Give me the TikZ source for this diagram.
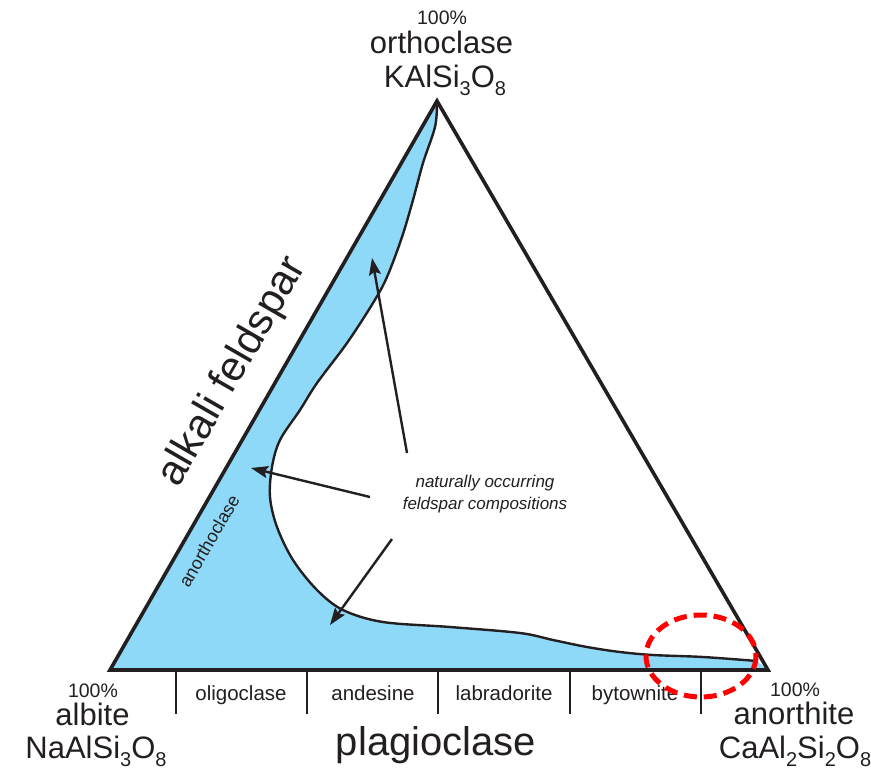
\documentclass[tikz,border=0pt]{standalone}
\usepackage{fontspec}
\setmainfont{Liberation Sans}
\usetikzlibrary{arrows.meta}
\definecolor{feld}{RGB}{142,216,248}
\definecolor{ink}{RGB}{35,31,32}
\definecolor{circ}{RGB}{255,0,0}
\newcommand\fsz[1]{\fontsize{#1}{#1}\selectfont}
\newcommand\subs[1]{\raisebox{-0.27em}{\fontsize{20}{20}\selectfont #1}}
\begin{document}
\begin{tikzpicture}[x=1pt,y=-1pt,
  edge/.style={draw=ink, line width=3.6pt, line join=miter},
  bound/.style={draw=ink, line width=2.4pt},
  tickln/.style={draw=ink, line width=1.6pt},
  arr/.style={draw=ink, line width=2.4pt, -{Stealth[length=17pt,width=12pt,inset=3pt]}},
  lbl/.style={inner sep=0pt, anchor=base, text=ink},
  big/.style={lbl, font=\fsz{31}},
  pct/.style={lbl, font=\fsz{19.5}},
  series/.style={lbl, font=\fsz{20.5}},
  note/.style={lbl, font=\fsz{17}\itshape}
]
\useasboundingbox (0,0) rectangle (871,769);
\coordinate (T) at (437,101);
\coordinate (A) at (110,670);
\coordinate (B) at (768,670);

% feldspar field
\fill[feld] plot[smooth, tension=0.55] coordinates {(437,103) (435,127) (423,163) (413,200) (402,237) (387,277) (373,303) (347,343) (317,383) (300,410) (280,440) (272,467) (270,497) (277,527) (293,560) (317,590) (343,610) (383,622) (450,627) (520,633) (553,640) (587,647) (620,652) (653,655) (703,657) (757,661)} -- (B) -- (A) -- cycle;
\draw[bound] plot[smooth, tension=0.55] coordinates {(437,103) (435,127) (423,163) (413,200) (402,237) (387,277) (373,303) (347,343) (317,383) (300,410) (280,440) (272,467) (270,497) (277,527) (293,560) (317,590) (343,610) (383,622) (450,627) (520,633) (553,640) (587,647) (620,652) (653,655) (703,657) (757,661)};

% triangle
\draw[edge] (T) -- (A) -- (B) -- cycle;

% plagioclase divisions
\foreach \x in {176,307,438,570,701} \draw[tickln] (\x,670) -- (\x,714);

% labels
\node[pct] (tp) at (442,24) {100\%};
\node[big] (tn) at (441.5,53) {orthoclase};
\node[big] (tf) at (445,87) {KAlSi\subs{3}O\subs{8}};

\node[pct] (lp) at (93,697) {100\%};
\node[big] (ln) at (92.5,725) {albite};
\node[big] (lf) at (96,758) {NaAlSi\subs{3}O\subs{8}};

\node[pct] (rp) at (795,696) {100\%};
\node[big] (rn) at (794,724) {anorthite};
\node[big] (rf) at (795,758) {CaAl\subs{2}Si\subs{2}O\subs{8}};

\node[lbl, font=\fsz{40}] (plag) at (436,755) {plagioclase};
\node[series] (s1) at (241,700) {oligoclase};
\node[series] (s2) at (373,700) {andesine};
\node[series] (s3) at (504,700) {labradorite};
\node[series] (s4) at (635,700) {bytownite};

\node[inner sep=0pt, text=ink, font=\fsz{42}, rotate=60] (alk) at (233,372) {alkali feldspar};
\node[inner sep=0pt, text=ink, font=\fsz{18}, rotate=60] (ano) at (209,541) {anorthoclase};

\node[note] (n1) at (485,487) {naturally occurring};
\node[note] (n2) at (485,509) {feldspar compositions};

% arrows
\coordinate (a1s) at (407,453); \coordinate (a1e) at (372,258);
\coordinate (a2s) at (370,497); \coordinate (a2e) at (251,468);
\coordinate (a3s) at (392,539); \coordinate (a3e) at (330,625);
\draw[arr] (a1s) -- (a1e);
\draw[arr] (a2s) -- (a2e);
\draw[arr] (a3s) -- (a3e);

% highlight
\coordinate (hc) at (701,656);
\draw[circ, line width=5pt, dash pattern=on 13pt off 7pt] (hc) ellipse [x radius=55, y radius=41];
\end{tikzpicture}
\end{document}
